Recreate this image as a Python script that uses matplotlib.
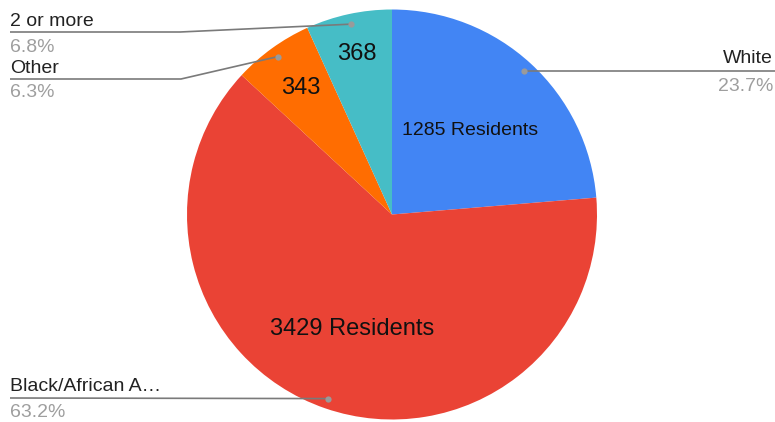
import numpy as np
import matplotlib
matplotlib.use("Agg")
import matplotlib.pyplot as plt

# Residents by race
categories = ["White", "Black/African A\u2026", "Other", "2 or more"]
residents = [1285, 3429, 343, 368]
inside_labels = ["1285 Residents", "3429 Residents", "343", "368"]
colors = ["#4285F4", "#EA4335", "#FF6D01", "#46BDC6"]

W, H = 775, 422
fig = plt.figure(figsize=(W / 100, H / 100), dpi=100)
ax = fig.add_axes([0, 0, 1, 1])

FONT = "Liberation Sans"
cx, cy, R = 392, H - 214.5, 205

wedges, _ = ax.pie(residents, colors=colors, startangle=90, counterclock=False,
                   center=(cx, cy), radius=R, frame=True,
                   wedgeprops=dict(linewidth=0))
ax.set_xlim(0, W)
ax.set_ylim(0, H)
ax.set_aspect("equal")
ax.axis("off")

total = sum(residents)

# label placement inside each slice (fraction of radius) and font size
inner_frac = [0.56, 0.59, 0.76, 0.80]
inner_size = [14, 17, 17, 17]

def mid_angle(w):
    return np.deg2rad((w.theta1 + w.theta2) / 2)

for w, txt, f, s in zip(wedges, inside_labels, inner_frac, inner_size):
    a = mid_angle(w)
    ax.text(cx + f * R * np.cos(a), cy + f * R * np.sin(a), txt,
            ha="center", va="center", fontsize=s, color="#111111", family=FONT)

# leader lines and outside labels
line_c = "#7a7a7a"
dot_c = "#9a9a9a"

def py(y):
    return H - y

dots = []
for w in wedges:
    a = mid_angle(w)
    dots.append((cx + 0.95 * R * np.cos(a), cy + 0.95 * R * np.sin(a)))

# paths from label edge to slice dot
paths = {
    0: [(W, None)],
    1: [(10, py(398))],
    2: [(10, py(79)), (181, py(79))],
    3: [(10, py(32)), (180, py(32))],
}
for i, pts in paths.items():
    dx, dy = dots[i]
    if i == 0:
        xs, ys = [dx, W], [dy, dy]
    else:
        xs = [p[0] for p in pts] + [dx]
        ys = [p[1] for p in pts] + [dy]
    ax.plot(xs, ys, color=line_c, lw=1.2, solid_capstyle="butt", zorder=3)
    ax.plot(dx, dy, "o", ms=4.5, color=dot_c, mec="none", zorder=4)

pct = [f"{100 * v / total:.1f}%" for v in residents]
label_pos = {
    0: (773, 63, 91, "right"),
    1: (10, 391, 417, "left"),
    2: (10, 73, 97, "left"),
    3: (10, 26, 52, "left"),
}
for i, (x, yn, yp, ha) in label_pos.items():
    ax.text(x, py(yn), categories[i], ha=ha, va="baseline", fontsize=14,
            color="#222222", family=FONT)
    ax.text(x, py(yp), pct[i], ha=ha, va="baseline", fontsize=14,
            color="#9e9e9e", family=FONT)

fig.savefig("out.png", dpi=100, facecolor="white")
